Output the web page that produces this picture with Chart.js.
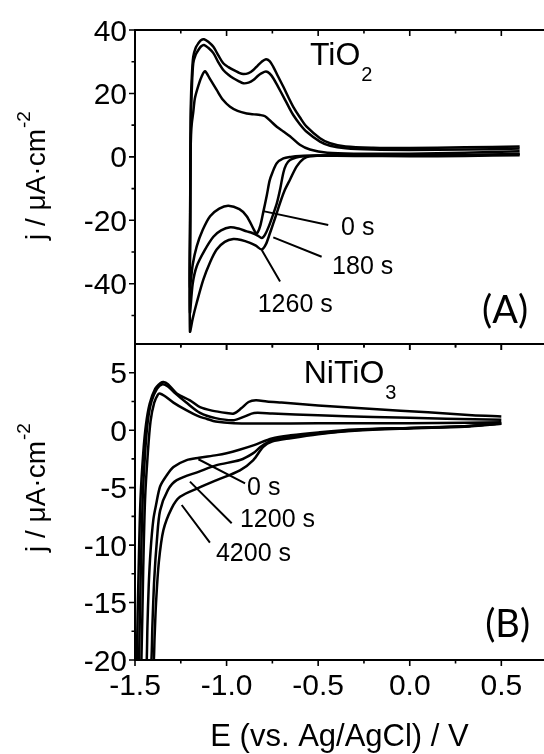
<!DOCTYPE html>
<html>
<head>
<meta charset="utf-8">
<script src="https://cdn.jsdelivr.net/npm/chart.js@4.4.0/dist/chart.umd.min.js"></script>
<style>
html,body{margin:0;padding:0;background:#fff;overflow:hidden}
#wrap{position:relative;width:544px;height:754px}
canvas{position:absolute;left:0;top:0}
</style>
</head>
<body>
<div id="wrap">
<canvas id="cA" width="544" height="754"></canvas>
<canvas id="cB" width="544" height="754"></canvas>
</div>
<script>
// ---------- tick values / labels ----------
const xMajor = [-1.5, -1.0, -0.5, 0.0, 0.5];
const xMajorLabels = ['-1.5', '-1.0', '-0.5', '0.0', '0.5'];
const xMinor = [-1.25, -0.75, -0.25, 0.25];
const yMajorA = [40, 20, 0, -20, -40];
const yMajorLabelsA = ['40', '20', '0', '-20', '-40'];
const yMinorA = [30, 10, -10, -30, -50];
const yMajorB = [5, 0, -5, -10, -15, -20];
const yMajorLabelsB = ['5', '0', '-5', '-10', '-15', '-20'];
const yMinorB = [2.5, -2.5, -7.5, -12.5, -17.5];

// ---------- Panel A: TiO2 (cathodic scan 0.6 -> -1.2 V, then anodic back) ----------
const seriesA = ['0 s', '180 s', '1260 s'];
const E_TiO2_0s = [0.6,0.3,0.0,-0.3,-0.5,-0.6,-0.65,-0.69,-0.726,-0.75,-0.765,-0.78,-0.80,-0.815,-0.83,-0.84,-0.855,-0.89,-0.93,-0.99,-1.04,-1.09,-1.13,-1.163,-1.185,-1.2,
  -1.199,-1.197,-1.194,-1.19,-1.182,-1.173,-1.154,-1.135,-1.118,-1.09,-1.054,-1.02,-0.981,-0.94,-0.89,-0.85,-0.817,-0.79,-0.76,-0.726,-0.69,-0.654,-0.60,-0.545,-0.45,-0.3,0.0,0.3,0.6];
const j_TiO2_0s = [0.5,0.3,0.2,0.3,0.4,0.3,0,-0.5,-2,-5,-7.5,-12,-17.5,-21.5,-23.8,-24,-22.5,-18.7,-16.5,-15.4,-16.3,-18.7,-23,-28.2,-34,-41,
  -20,0,7,10.5,14,18.5,22.5,25.5,27,24.5,21.1,18,15.8,14.5,13.7,13.4,13.2,12.8,11.3,9.5,8,6.5,3.8,2.3,1.3,1.0,1.0,1.3,1.8];

const E_TiO2_180s = [0.6,0.3,0.0,-0.3,-0.5,-0.58,-0.62,-0.654,-0.675,-0.69,-0.708,-0.725,-0.745,-0.77,-0.79,-0.808,-0.83,-0.86,-0.89,-0.935,-0.98,-1.03,-1.072,-1.12,-1.163,-1.185,-1.2,
  -1.199,-1.197,-1.195,-1.19,-1.182,-1.168,-1.154,-1.14,-1.123,-1.10,-1.072,-1.045,-1.018,-0.99,-0.963,-0.935,-0.909,-0.88,-0.854,-0.83,-0.808,-0.785,-0.765,-0.745,-0.72,-0.69,-0.66,-0.636,-0.60,-0.563,-0.49,-0.435,-0.35,-0.2,0.0,0.3,0.6];
const j_TiO2_180s = [0.8,0.5,0.4,0.4,0.35,0.2,-0.2,-1,-2.5,-5,-10.3,-14.5,-18,-22,-24.5,-25.6,-24.8,-24,-23.5,-22.6,-22.2,-23.2,-25.2,-29.5,-34.5,-40,-49,
  -25,0,12,21,29.5,32.3,33.7,34.8,35.3,34.4,32.7,29.8,27.4,25.9,24.8,23.9,23.2,23.4,24.2,25.5,26.4,26.9,26.3,24.8,22.2,19,15.7,13.2,10.3,7.9,4.8,3.5,2.7,2.3,2.2,2.3,2.6];

const E_TiO2_1260s = [0.6,0.3,0.0,-0.3,-0.545,-0.58,-0.617,-0.654,-0.681,-0.705,-0.726,-0.745,-0.763,-0.785,-0.808,-0.84,-0.872,-0.92,-0.963,-1.01,-1.054,-1.09,-1.127,-1.163,-1.185,-1.2,
  -1.199,-1.197,-1.195,-1.19,-1.182,-1.168,-1.154,-1.14,-1.123,-1.10,-1.072,-1.045,-1.018,-0.99,-0.963,-0.935,-0.909,-0.88,-0.854,-0.83,-0.808,-0.785,-0.765,-0.745,-0.72,-0.69,-0.66,-0.636,-0.60,-0.563,-0.49,-0.435,-0.35,-0.2,0.0,0.3,0.6];
const j_TiO2_1260s = [1.0,0.6,0.5,0.5,0.2,-0.6,-3,-7.2,-10.3,-14,-17.7,-21,-24,-27.5,-29.2,-28,-27.1,-26.2,-25.9,-26.8,-29.2,-33.2,-38.7,-46,-51,-55,
  -20,5,17,25,31.6,34.5,35.8,36.8,37.1,36.3,34.7,32,29.5,28.3,27.4,26.6,26.1,26.4,27.4,28.8,30,30.8,30.2,28.4,25.5,22.1,18.5,15.8,12.5,9.5,5.9,4.3,3.3,2.9,2.8,3.0,3.3];

// ---------- Panel B: NiTiO3 (cathodic scan 0.5 -> -1.5 V, then anodic back) ----------
const seriesB = ['0 s', '1200 s', '4200 s'];
const E_NiTiO3_0s = [0.5,0.3,0.0,-0.3,-0.5,-0.65,-0.752,-0.85,-0.93,-1.0,-1.054,-1.15,-1.218,-1.29,-1.33,-1.363,-1.385,-1.40,-1.415,-1.425,-1.432,-1.438,-1.5,
  -1.465,-1.455,-1.445,-1.43,-1.415,-1.395,-1.375,-1.365,-1.34,-1.29,-1.22,-1.145,-1.11,-1.06,-0.96,-0.8,-0.5,0.0,0.3,0.5];
const j_NiTiO3_0s = [0.6,0.35,0.2,0.05,-0.2,-0.45,-0.72,-1.3,-1.7,-2.0,-2.17,-2.4,-2.6,-3.2,-4.0,-4.9,-6.5,-7.8,-10.5,-13.5,-17,-21,-38,
  -20,-12,-6,-2,0.8,2.4,3.1,3.2,3.0,2.4,1.74,1.15,1.0,0.75,0.6,0.58,0.6,0.6,0.65,0.7];

const E_NiTiO3_1200s = [0.5,0.3,0.0,-0.3,-0.5,-0.65,-0.752,-0.81,-0.854,-0.927,-1.054,-1.15,-1.272,-1.32,-1.363,-1.38,-1.395,-1.405,-1.412,-1.5,
  -1.478,-1.468,-1.458,-1.445,-1.43,-1.41,-1.38,-1.35,-1.32,-1.28,-1.22,-1.145,-1.06,-0.96,-0.9,-0.85,-0.75,-0.5,-0.2,0.2,0.5];
const j_NiTiO3_1200s = [0.6,0.35,0.2,0.0,-0.3,-0.6,-0.9,-1.4,-2.0,-2.6,-3.04,-3.6,-4.35,-5.2,-7.0,-9.5,-13,-17,-20.5,-38,
  -20,-12,-6,-2,0.8,2.5,3.6,4.0,3.8,3.2,2.4,1.5,1.05,0.87,1.2,1.5,1.45,1.3,1.15,1.0,0.9];

const E_NiTiO3_4200s = [0.5,0.3,0.0,-0.3,-0.5,-0.65,-0.752,-0.8,-0.854,-0.927,-1.054,-1.15,-1.254,-1.30,-1.345,-1.37,-1.385,-1.393,-1.399,-1.5,
  -1.49,-1.48,-1.47,-1.455,-1.44,-1.42,-1.39,-1.36,-1.345,-1.32,-1.272,-1.2,-1.145,-1.08,-1.0,-0.96,-0.92,-0.88,-0.84,-0.78,-0.7,-0.5,-0.2,0.1,0.34,0.5];
const j_NiTiO3_4200s = [0.55,0.3,0.15,-0.05,-0.35,-0.7,-1.0,-1.45,-2.6,-3.5,-4.35,-5.0,-5.8,-6.8,-8.7,-11.5,-15,-18,-20.5,-38,
  -20,-12,-6,-2,0.5,2.3,3.6,4.1,4.2,4.0,3.2,2.6,2.0,1.7,1.5,1.45,1.9,2.45,2.6,2.5,2.4,2.15,1.85,1.55,1.3,1.2];

// ---------- helpers ----------
const FONT = '"Liberation Sans", Arial, Helvetica, sans-serif';
function pts(E, j) { return E.map((e, i) => ({ x: e, y: j[i] })); }
function ds(label, E, j) {
  return { label, data: pts(E, j), showLine: true, borderColor: '#000', borderWidth: 2.5,
           pointRadius: 0, tension: 0.3, fill: false };
}

function drawYTitle(ctx, x, yStart) {
  ctx.save();
  ctx.translate(x, yStart);
  ctx.rotate(-Math.PI / 2);
  ctx.textAlign = 'left'; ctx.textBaseline = 'alphabetic';
  ctx.font = '28px ' + FONT;
  const main = 'j / \u03BCA\u00B7cm';
  ctx.fillText(main, 0, 0);
  const w = ctx.measureText(main).width;
  ctx.font = '19px ' + FONT;
  ctx.fillText('-2', w + 1, -15);
  ctx.restore();
}

function panelPlugin(p) {
  return {
    id: 'panel' + p.key,
    afterDraw(chart) {
      const ctx = chart.ctx, xs = chart.scales.x, ys = chart.scales.y, a = chart.chartArea;
      ctx.save();
      ctx.strokeStyle = '#000'; ctx.fillStyle = '#000'; ctx.lineWidth = 2;
      // frame (left, top, bottom)
      ctx.beginPath();
      ctx.moveTo(a.left, a.top); ctx.lineTo(a.right, a.top);
      ctx.moveTo(a.left, a.bottom); ctx.lineTo(a.right, a.bottom);
      ctx.moveTo(a.left, a.top - 1); ctx.lineTo(a.left, a.bottom + 1);
      ctx.stroke();
      // ticks
      ctx.lineWidth = 1.6;
      ctx.beginPath();
      p.yMajor.forEach(v => { const y = ys.getPixelForValue(v); ctx.moveTo(a.left, y); ctx.lineTo(a.left - 6, y); });
      p.yMinor.forEach(v => { const y = ys.getPixelForValue(v); ctx.moveTo(a.left, y); ctx.lineTo(a.left - 3.5, y); });
      xMajor.forEach(v => { const x = xs.getPixelForValue(v); ctx.moveTo(x, a.top); ctx.lineTo(x, a.top + 6); ctx.moveTo(x, a.bottom); ctx.lineTo(x, a.bottom + 6); });
      xMinor.forEach(v => { const x = xs.getPixelForValue(v); ctx.moveTo(x, a.top); ctx.lineTo(x, a.top + 3.5); ctx.moveTo(x, a.bottom); ctx.lineTo(x, a.bottom + 3.5); });
      ctx.stroke();
      // y tick labels
      ctx.font = '30px ' + FONT;
      ctx.textAlign = 'right'; ctx.textBaseline = 'alphabetic';
      p.yMajor.forEach((v, i) => { const y = ys.getPixelForValue(v); ctx.fillText(p.yLabels[i], a.left - 8, y + 10.5); });
      // x tick labels + x title
      if (p.xLabels) {
        ctx.textAlign = 'center';
        xMajor.forEach((v, i) => { const x = xs.getPixelForValue(v); ctx.fillText(xMajorLabels[i], x, a.bottom + 35); });
        ctx.font = '31px ' + FONT;
        ctx.fillText('E (vs. Ag/AgCl) / V', (a.left + a.right) / 2, a.bottom + 86);
      }
      // y title
      drawYTitle(ctx, 45, p.titleStart);
      // material label with subscript
      ctx.textAlign = 'left';
      ctx.font = '32px ' + FONT;
      const mx = xs.getPixelForValue(p.mat.x), my = ys.getPixelForValue(p.mat.y);
      ctx.fillText(p.mat.main, mx, my);
      const mw = ctx.measureText(p.mat.main).width;
      ctx.font = '20px ' + FONT;
      ctx.fillText(p.mat.sub, mx + mw + 1, my + 16);
      // panel letter
      ctx.font = '38px Lato, "Open Sans", sans-serif';
      ctx.textAlign = 'right';
      ctx.fillText(p.letter.text, xs.getPixelForValue(p.letter.x), ys.getPixelForValue(p.letter.y));
      // leader lines and time labels
      ctx.lineWidth = 2;
      ctx.beginPath();
      p.leaders.forEach(L => {
        ctx.moveTo(xs.getPixelForValue(L.x0), ys.getPixelForValue(L.y0));
        ctx.lineTo(xs.getPixelForValue(L.x1), ys.getPixelForValue(L.y1));
      });
      ctx.stroke();
      ctx.font = '25px ' + FONT;
      ctx.textAlign = 'left';
      p.leaders.forEach(L => {
        ctx.fillText(L.text, xs.getPixelForValue(L.tx), ys.getPixelForValue(L.ty));
      });
      ctx.restore();
    }
  };
}

function baseOptions(pad, ymin, ymax) {
  return {
    responsive: false, animation: false, maintainAspectRatio: false,
    layout: { padding: pad },
    plugins: { legend: { display: false }, tooltip: { enabled: false } },
    scales: {
      x: { type: 'linear', min: -1.5, max: 0.733, display: false },
      y: { type: 'linear', min: ymin, max: ymax, display: false }
    }
  };
}

// ---------- Chart A ----------
new Chart(document.getElementById('cA'), {
  type: 'scatter',
  data: { datasets: [
    ds(seriesA[0], E_TiO2_0s, j_TiO2_0s),
    ds(seriesA[1], E_TiO2_180s, j_TiO2_180s),
    ds(seriesA[2], E_TiO2_1260s, j_TiO2_1260s)
  ] },
  options: baseOptions({ left: 135, top: 30, right: 0, bottom: 410 }, -59, 40),
  plugins: [panelPlugin({
    key: 'A', yMajor: yMajorA, yLabels: yMajorLabelsA, yMinor: yMinorA, xLabels: false,
    titleStart: 240,
    mat: { main: 'TiO', sub: '2', x: -0.545, y: 29.0 },
    letter: { text: '(A)', x: 0.646, y: -52.4 },
    leaders: [
      { text: seriesA[0], x0: -0.800, y0: -17.1, x1: -0.445, y1: -21.5, tx: -0.375, ty: -24.6 },
      { text: seriesA[1], x0: -0.745, y0: -25.4, x1: -0.481, y1: -31.5, tx: -0.424, ty: -36.9 },
      { text: seriesA[2], x0: -0.808, y0: -29.4, x1: -0.708, y1: -39.3, tx: -0.830, ty: -48.9 }
    ]
  })]
});

// ---------- Chart B ----------
new Chart(document.getElementById('cB'), {
  type: 'scatter',
  data: { datasets: [
    ds(seriesB[0], E_NiTiO3_0s, j_NiTiO3_0s),
    ds(seriesB[1], E_NiTiO3_1200s, j_NiTiO3_1200s),
    ds(seriesB[2], E_NiTiO3_4200s, j_NiTiO3_4200s)
  ] },
  options: baseOptions({ left: 135, top: 344, right: 0, bottom: 94 }, -20, 7.5),
  plugins: [panelPlugin({
    key: 'B', yMajor: yMajorB, yLabels: yMajorLabelsB, yMinor: yMinorB, xLabels: true,
    titleStart: 552,
    mat: { main: 'NiTiO', sub: '3', x: -0.579, y: 4.11 },
    letter: { text: '(B)', x: 0.657, y: -18.0 },
    leaders: [
      { text: seriesB[0], x0: -1.154, y0: -2.53, x1: -0.899, y1: -4.62, tx: -0.888, ty: -5.64 },
      { text: seriesB[1], x0: -1.200, y0: -4.48, x1: -0.972, y1: -8.10, tx: -0.927, ty: -8.42 },
      { text: seriesB[2], x0: -1.245, y0: -6.51, x1: -1.091, y1: -9.79, tx: -1.058, ty: -11.38 }
    ]
  })]
});
</script>
</body>
</html>
